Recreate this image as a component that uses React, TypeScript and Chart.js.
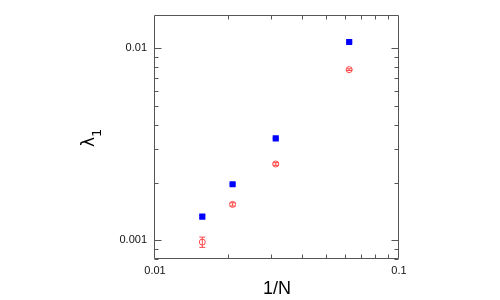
import React, { useEffect, useRef } from "react";
import { Chart, registerables } from "chart.js";
Chart.register(...registerables);

// 1/N values
const invN = [0.015625, 0.0208, 0.03125, 0.0625];
// blue squares
const blueLambda = [0.00133, 0.00196, 0.0034, 0.0108];
const blueErr = [0.00002, 0.00002, 0.00003, 0.00008];
// red open circles
const redLambda = [0.00098, 0.00154, 0.0025, 0.00775];
const redErr = [0.00006, 0.00003, 0.00004, 0.00008];
// tick labels
const xTickLabels = [0.01, 0.1];
const yTickLabels = [0.001, 0.01];
const xMinorTicks = [0.02, 0.03, 0.04, 0.05, 0.06, 0.07, 0.08, 0.09];
const yMinorTicks = [0.0008, 0.0009, 0.002, 0.003, 0.004, 0.005, 0.006, 0.007, 0.008, 0.009];
const yTitleMain = "λ";
const yTitleSub = "1";

const FONT = "'Liberation Sans', Arial, sans-serif";

const errorBarPlugin = {
  id: "errorBars",
  afterDatasetsDraw(chart: any) {
    const ctx = chart.ctx;
    const xs = chart.scales.x;
    const ys = chart.scales.y;
    chart.data.datasets.forEach((ds: any) => {
      const errs = ds.errors as number[];
      if (!errs) return;
      ctx.save();
      ctx.strokeStyle = ds.errColor;
      ctx.lineWidth = 1;
      ds.data.forEach((p: any, i: number) => {
        const px = xs.getPixelForValue(p.x);
        const y1 = ys.getPixelForValue(p.y - errs[i]);
        const y2 = ys.getPixelForValue(p.y + errs[i]);
        ctx.beginPath();
        ctx.moveTo(px, y1);
        ctx.lineTo(px, y2);
        ctx.moveTo(px - 3, y1);
        ctx.lineTo(px + 3, y1);
        ctx.moveTo(px - 3, y2);
        ctx.lineTo(px + 3, y2);
        ctx.stroke();
      });
      ctx.restore();
    });
  },
};

const framePlugin = {
  id: "frame",
  afterDraw(chart: any) {
    const ctx = chart.ctx;
    const { left, right, top, bottom } = chart.chartArea;
    const xs = chart.scales.x;
    const ys = chart.scales.y;
    ctx.save();
    ctx.strokeStyle = "#555";
    ctx.lineWidth = 1;
    const L = Math.round(left) - 0.5;
    const R = Math.round(right) - 0.5;
    const T = Math.round(top) + 0.5;
    const B = Math.round(bottom) - 0.5;
    ctx.beginPath();
    ctx.rect(L, T, R - L, B - T);
    ctx.stroke();
    ctx.beginPath();
    const yt = (v: number, len: number) => {
      const py = Math.round(ys.getPixelForValue(v)) + 0.5;
      ctx.moveTo(L, py);
      ctx.lineTo(L + len, py);
      ctx.moveTo(R, py);
      ctx.lineTo(R - len, py);
    };
    yTickLabels.forEach((v) => yt(v, 7));
    yMinorTicks.forEach((v) => yt(v, 4));
    const xt = (v: number, len: number) => {
      const px = Math.round(xs.getPixelForValue(v)) + 0.5;
      ctx.moveTo(px, B);
      ctx.lineTo(px, B - len);
      ctx.moveTo(px, T);
      ctx.lineTo(px, T + len);
    };
    xMinorTicks.forEach((v) => xt(v, 4));
    ctx.stroke();

    // y-axis title: λ with subscript 1, rotated
    const midY = (top + bottom) / 2;
    ctx.fillStyle = "#000";
    ctx.textBaseline = "alphabetic";
    ctx.textAlign = "left";
    ctx.font = "17px 'DejaVu Sans', sans-serif";
    const wMain = ctx.measureText(yTitleMain).width;
    ctx.font = "13px 'DejaVu Sans', sans-serif";
    const wSub = ctx.measureText(yTitleSub).width;
    const total = wMain + wSub;
    ctx.translate(94, midY + total / 2 + 1);
    ctx.rotate(-Math.PI / 2);
    ctx.font = "17px 'DejaVu Sans', sans-serif";
    ctx.fillText(yTitleMain, 0, 0);
    ctx.font = "13px 'DejaVu Sans', sans-serif";
    ctx.fillText(yTitleSub, wMain, 7);
    ctx.restore();
  },
};

export default function App() {
  const ref = useRef<HTMLCanvasElement>(null);
  useEffect(() => {
    if (!ref.current) return;
    const chart = new Chart(ref.current, {
      type: "scatter",
      data: {
        datasets: [
          {
            label: "blue",
            data: invN.map((x, i) => ({ x, y: blueLambda[i] })),
            pointStyle: "rect",
            pointRadius: 4.3,
            backgroundColor: "rgb(0,0,255)",
            borderColor: "rgb(0,0,255)",
            borderWidth: 0,
            errors: blueErr,
            errColor: "rgb(0,0,255)",
          } as any,
          {
            label: "red",
            data: invN.map((x, i) => ({ x, y: redLambda[i] })),
            pointStyle: "circle",
            pointRadius: 3,
            backgroundColor: "rgba(0,0,0,0)",
            borderColor: "rgb(255,70,70)",
            borderWidth: 1,
            errors: redErr,
            errColor: "rgb(255,70,70)",
          } as any,
        ],
      },
      options: {
        responsive: false,
        animation: false,
        layout: { padding: { left: 75, top: 14, right: 101, bottom: 0 } },
        plugins: { legend: { display: false }, tooltip: { enabled: false } },
        scales: {
          x: {
            type: "logarithmic",
            min: 0.01,
            max: 0.1,
            grid: { display: false, drawTicks: false },
            border: { display: false },
            afterBuildTicks: (s: any) => {
              s.ticks = xTickLabels.map((v) => ({ value: v, major: true }));
            },
            afterFit: (s: any) => {
              s.height = 41;
            },
            ticks: {
              autoSkip: false,
              maxRotation: 0,
              padding: 5,
              color: "#111",
              font: { family: FONT, size: 11 },
              callback: (v: any) => String(v),
            },
            title: {
              display: true,
              text: "1/N",
              color: "#000",
              padding: { top: 0, bottom: 0 },
              font: { family: FONT, size: 18 },
            },
          },
          y: {
            type: "logarithmic",
            min: 0.0008,
            max: 0.015,
            grid: { display: false, drawTicks: false },
            border: { display: false },
            afterBuildTicks: (s: any) => {
              s.ticks = yTickLabels.map((v) => ({ value: v, major: true }));
            },
            afterFit: (s: any) => {
              s.width = 80;
            },
            ticks: {
              autoSkip: false,
              padding: 8,
              color: "#111",
              font: { family: FONT, size: 11 },
              callback: (v: any) => String(v),
            },
            title: { display: false },
          },
        },
      },
      plugins: [errorBarPlugin, framePlugin],
    });
    return () => chart.destroy();
  }, []);
  return (
    <div style={{ position: "absolute", left: 0, top: 0, width: 500, height: 300, background: "#fff" }}>
      <canvas ref={ref} width={500} height={300} />
    </div>
  );
}
